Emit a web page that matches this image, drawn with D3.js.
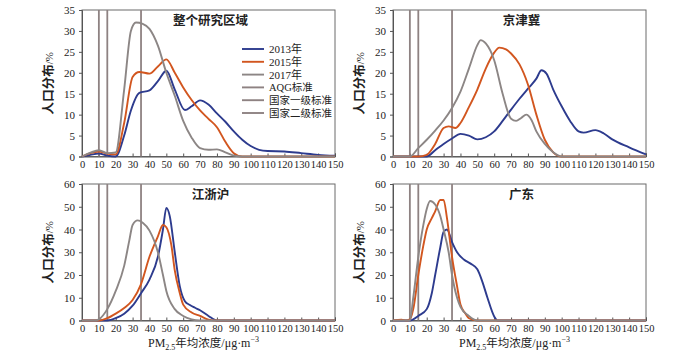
<!DOCTYPE html>
<html>
<head>
<meta charset="utf-8">
<script src="https://cdn.jsdelivr.net/npm/d3@7"></script>
<style>
  body { margin: 0; background: #fff; }
  svg { font-family: "Liberation Serif", "Noto Sans CJK SC", serif; }
</style>
</head>
<body>
<svg width="700" height="354"></svg>
<script>
// x values (PM2.5) and y values (population %)
const allX13 = [0, 5, 10, 15, 20, 25, 29, 34, 40, 45, 50, 55, 61, 65, 70, 75, 80, 85, 90, 95, 100, 105, 110, 120, 130, 140, 150];
const allY13 = [0, 0.4, 0.7, 0.2, 0, 5, 11, 15.2, 15.8, 18, 20.5, 16, 11.1, 12, 13.4, 12.4, 10.3, 8.3, 6, 4, 2.5, 1.6, 1.3, 1.2, 0.8, 0.4, 0.2];
const allX15 = [0, 5, 10, 15, 20, 25, 30, 34, 40, 45, 50, 55, 60, 65, 70, 75, 80, 85, 90, 95, 150];
const allY15 = [0, 0.8, 1.2, 0.7, 0.5, 8, 19, 20.2, 19.8, 21.5, 23.2, 20, 16.5, 13.5, 11, 9, 7, 3.5, 0.8, 0, 0];
const allX17 = [0, 5, 10, 15, 20, 25, 29, 32, 36, 40, 45, 50, 55, 60, 65, 70, 75, 80, 85, 90, 95, 150];
const allY17 = [0, 0.9, 1.5, 0.8, 1, 16, 30, 32, 31.7, 30.5, 26.5, 20, 14.5, 8.5, 4.5, 2, 1.6, 1.7, 1, 0.2, 0, 0];

const jjjX13 = [0, 20, 25, 30, 35, 40, 45, 50, 55, 60, 65, 70, 75, 80, 85, 88, 91, 95, 100, 105, 110, 113, 120, 125, 130, 140, 150];
const jjjY13 = [0, 0, 1.5, 3, 4.3, 5.4, 5, 4.1, 4.6, 6, 8.5, 11.2, 13.8, 16.2, 18.6, 20.6, 19.8, 16, 12, 8.5, 6, 5.7, 6.3, 5.5, 4.1, 2.2, 0.5];
const jjjX15 = [0, 15, 20, 25, 30, 33, 37, 40, 45, 50, 55, 60, 63, 67, 70, 75, 80, 85, 90, 95, 100, 150];
const jjjY15 = [0, 0, 0.4, 3, 6.8, 7.2, 6.8, 8, 11.8, 16, 21, 24.8, 26, 25.6, 24.6, 22, 17.2, 10, 4, 1, 0, 0];
const jjjX17 = [0, 10, 15, 20, 25, 30, 35, 40, 45, 50, 52, 55, 60, 65, 70, 73, 76, 79, 82, 85, 90, 95, 100, 150];
const jjjY17 = [0, 0, 2, 4, 6.2, 8.6, 11.6, 15.5, 21, 26.6, 27.8, 27, 23, 15, 9, 8.5, 9.2, 10, 8.8, 6, 3, 1, 0, 0];

const jzhX13 = [0, 15, 20, 25, 30, 35, 40, 45, 48, 50, 52, 55, 58, 61, 64, 67, 70, 75, 80, 150];
const jzhY13 = [0, 0, 1, 3, 6.5, 12, 18, 28, 40, 49.5, 46, 30, 15, 8.5, 6.8, 5.6, 4.5, 2, 0, 0];
const jzhX15 = [0, 10, 15, 20, 25, 30, 35, 40, 45, 48, 50, 53, 55, 58, 60, 65, 70, 75, 80, 150];
const jzhY15 = [0, 0, 1, 3, 5.5, 9, 16, 28, 37, 42, 41, 33, 22, 12, 7, 3.5, 2, 0.4, 0, 0];
const jzhX17 = [0, 8, 10, 15, 20, 25, 28, 30, 33, 36, 40, 45, 48, 50, 55, 60, 65, 70, 150];
const jzhY17 = [0, 0, 0.5, 5, 13, 24, 35, 42, 44, 43, 39.5, 30, 20, 13, 5, 2, 0.5, 0, 0];

const gdX13 = [0, 10, 12, 15, 20, 23, 25, 28, 30, 32, 35, 38, 42, 46, 50, 53, 56, 60, 62, 150];
const gdY13 = [0, 0, 0.5, 2, 5, 12, 20, 32, 39, 40, 34.5, 30, 26.8, 25, 22.5, 17, 10, 1.8, 0, 0];
const gdX15 = [0, 5, 8, 10, 12, 15, 18, 20, 23, 25, 28, 30, 32, 35, 38, 40, 43, 45, 50, 150];
const gdY15 = [0, 0.3, 0, 0.5, 5, 20, 33, 40, 45, 48, 53, 53, 45, 28, 15, 7, 3, 1, 0, 0];
const gdX17 = [0, 10, 12, 15, 18, 20, 22, 25, 28, 30, 33, 35, 38, 40, 45, 50, 150];
const gdY17 = [0, 0, 10, 28, 42, 49, 52.5, 51, 46, 40, 30, 20, 10, 6, 2, 0, 0];

const seriesNames = ["2013年", "2015年", "2017年"];
const standardNames = ["AQG标准", "国家一级标准", "国家二级标准"];
const standardValues = [10, 15, 35];
const xTicks = d3.range(0, 151, 10);
const panelTitles = ["整个研究区域", "京津冀", "江浙沪", "广东"];

const colors = ["#2d3b8e", "#d2561f", "#8c8685"];
const stdColor = "#8e8282";

const panels = [
  {title: panelTitles[0], yMax: 35, yStep: 5, box: [82, 10, 335, 156.5],
   series: [[allX13, allY13], [allX15, allY15], [allX17, allY17]], legend: true},
  {title: panelTitles[1], yMax: 35, yStep: 5, box: [393, 10, 646, 156.5],
   series: [[jjjX13, jjjY13], [jjjX15, jjjY15], [jjjX17, jjjY17]]},
  {title: panelTitles[2], yMax: 60, yStep: 10, box: [82, 184, 335, 320.5],
   series: [[jzhX13, jzhY13], [jzhX15, jzhY15], [jzhX17, jzhY17]], xTitle: true},
  {title: panelTitles[3], yMax: 60, yStep: 10, box: [393, 184, 646, 320.5],
   series: [[gdX13, gdY13], [gdX15, gdY15], [gdX17, gdY17]], xTitle: true}
];

const svg = d3.select("svg");

panels.forEach(function (p) {
  const [x0, y0, x1, y1] = p.box;
  const xScale = d3.scaleLinear().domain([0, 150]).range([x0, x1]);
  const yScale = d3.scaleLinear().domain([0, p.yMax]).range([y1, y0]);
  const g = svg.append("g");

  // frame
  g.append("rect")
    .attr("x", x0).attr("y", y0)
    .attr("width", x1 - x0).attr("height", y1 - y0)
    .attr("fill", "none").attr("stroke", "#6b6b6b").attr("stroke-width", 1);

  // axes
  const xAxis = g.append("g")
    .attr("transform", `translate(0,${y1})`)
    .call(d3.axisBottom(xScale).tickValues(xTicks).tickSize(-3).tickPadding(6));
  const yAxis = g.append("g")
    .attr("transform", `translate(${x0},0)`)
    .call(d3.axisLeft(yScale).tickValues(d3.range(0, p.yMax + 1, p.yStep)).tickSize(3).tickPadding(4));
  [xAxis, yAxis].forEach(a => {
    a.select(".domain").attr("stroke", "#555");
    a.selectAll(".tick line").attr("stroke", "#555");
    a.selectAll("text").attr("font-size", 10.5).attr("fill", "#222")
      .attr("font-family", "Liberation Serif");
  });
  yAxis.selectAll("text").attr("font-size", 11);
  xAxis.selectAll("text").attr("dy", "0.55em");

  // standards
  g.selectAll(".std")
    .data(standardValues)
    .join("line")
    .attr("x1", d => xScale(d)).attr("x2", d => xScale(d))
    .attr("y1", y0).attr("y2", y1)
    .attr("stroke", stdColor).attr("stroke-width", 1.8);

  // curves
  const line = d3.line()
    .x(d => xScale(d[0]))
    .y(d => yScale(d[1]))
    .curve(d3.curveMonotoneX);
  p.series.forEach(function (s, i) {
    const pts = s[0].map((xv, k) => [xv, s[1][k]]);
    g.append("path")
      .datum(pts)
      .attr("d", line)
      .attr("fill", "none")
      .attr("stroke", colors[i])
      .attr("stroke-width", 1.9);
  });

  // title
  g.append("text")
    .attr("x", (x0 + x1) / 2 + 2)
    .attr("y", y0 + 15)
    .attr("text-anchor", "middle")
    .attr("font-size", 12.5)
    .attr("font-weight", "bold")
    .attr("fill", "#222")
    .attr("font-family", "Noto Sans CJK SC")
    .text(p.title);

  // y title
  const yt = g.append("text")
    .attr("transform", `translate(${x0 - 29},${(y0 + y1) / 2}) rotate(-90)`)
    .attr("text-anchor", "middle")
    .attr("font-size", 12.5)
    .attr("fill", "#222");
  yt.append("tspan").attr("font-family", "Noto Sans CJK SC").attr("font-weight", "bold").text("人口分布");
  yt.append("tspan").attr("font-size", 11).text("/%");

  // x title
  if (p.xTitle) {
    const xt = g.append("text")
      .attr("x", (x0 + x1) / 2 - 5)
      .attr("y", y1 + 26)
      .attr("text-anchor", "middle")
      .attr("font-size", 12)
      .attr("fill", "#222");
    xt.append("tspan").text("PM");
    xt.append("tspan").attr("font-size", 8).attr("dy", 3).text("2.5");
    xt.append("tspan").attr("dy", -3).attr("font-family", "Noto Sans CJK SC").attr("font-size", 11.5).text("年均浓度");
    xt.append("tspan").text("/μg·m");
    xt.append("tspan").attr("font-size", 8).attr("dy", -5).text("−3");
  }

  // legend
  if (p.legend) {
    const names = seriesNames.concat(standardNames);
    const lcol = colors.concat([stdColor, stdColor, stdColor]);
    const lg = g.append("g");
    names.forEach(function (n, i) {
      const ly = 49 + i * 12.8;
      lg.append("line")
        .attr("x1", 242).attr("x2", 264)
        .attr("y1", ly).attr("y2", ly)
        .attr("stroke", lcol[i]).attr("stroke-width", 1.9);
      lg.append("text")
        .attr("x", 269).attr("y", ly + 4)
        .attr("font-size", 11)
        .attr("fill", "#222")
        .text(n);
    });
    lg.selectAll("text").filter((d, i) => i > 2).attr("font-size", 10.5);
  }
});
</script>
</body>
</html>
